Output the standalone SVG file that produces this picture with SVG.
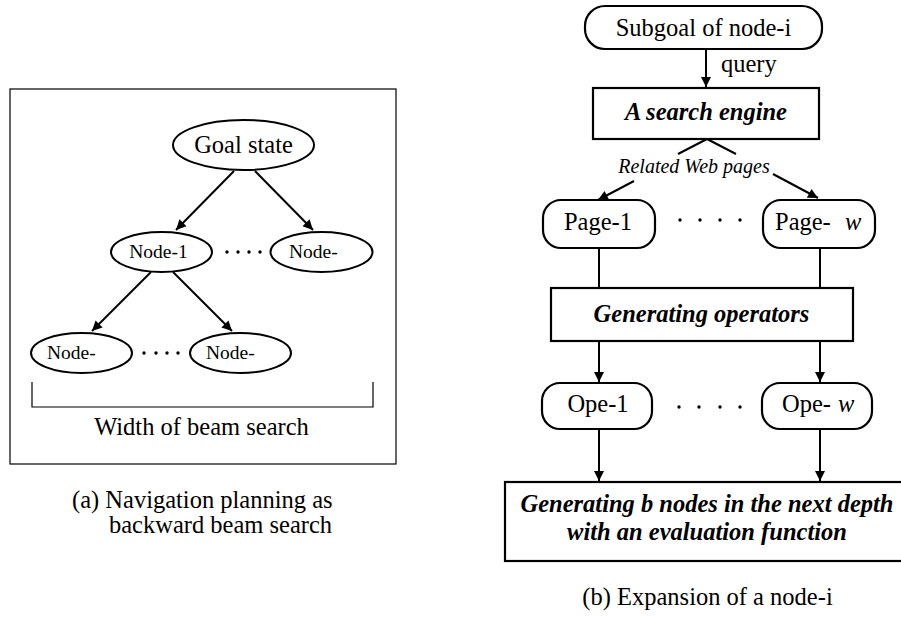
<svg xmlns="http://www.w3.org/2000/svg" width="901" height="617" viewBox="0 0 901 617">
<style>
text{font-family:"Liberation Serif","Times New Roman",serif;fill:#000}
.t25{font-size:24.5px}
.t19{font-size:19.5px}
.bi{font-size:24.5px;font-weight:bold;font-style:italic}
.it{font-style:italic}
.el{fill:#fff;stroke:#000;stroke-width:2}
.bx{fill:#fff;stroke:#000;stroke-width:2.2}
.ln{stroke:#000;stroke-width:2;fill:none}
.thin{stroke:#000;stroke-width:1.2;fill:none}
.dot{fill:#000}
</style>
<defs>
<marker id="ah" viewBox="0 0 10 10" refX="10" refY="5" markerWidth="6.5" markerHeight="5" orient="auto" markerUnits="strokeWidth">
<path d="M0,0 L10,5 L0,10 z" fill="#000"/>
</marker>
</defs>
<rect x="10" y="89" width="386" height="375" class="thin" fill="#fff"/>
<g id="connectors">
<line x1="234" y1="171" x2="176" y2="230" class="ln" marker-end="url(#ah)"/>
<line x1="255" y1="171" x2="313" y2="230" class="ln" marker-end="url(#ah)"/>
<line x1="151" y1="272" x2="92" y2="331" class="ln" marker-end="url(#ah)"/>
<line x1="173" y1="272" x2="232" y2="331" class="ln" marker-end="url(#ah)"/>
<line x1="706" y1="49" x2="706" y2="87" class="ln" marker-end="url(#ah)"/>
<polyline points="678,154 707,139 736,154" class="ln"/>
<line x1="634" y1="181" x2="598" y2="200" class="ln" marker-end="url(#ah)"/>
<line x1="773" y1="174" x2="818" y2="198" class="ln" marker-end="url(#ah)"/>
<line x1="599" y1="248" x2="599" y2="288" class="ln"/>
<line x1="820" y1="248" x2="820" y2="288" class="ln"/>
<line x1="599" y1="341" x2="599" y2="382" class="ln" marker-end="url(#ah)"/>
<line x1="820" y1="341" x2="820" y2="382" class="ln" marker-end="url(#ah)"/>
<line x1="599" y1="429" x2="599" y2="481" class="ln" marker-end="url(#ah)"/>
<line x1="820" y1="429" x2="820" y2="481" class="ln" marker-end="url(#ah)"/>
</g>
<g id="goal"><ellipse cx="243.5" cy="145" rx="70.5" ry="25" class="el"/><text x="243.5" y="153" class="t25" text-anchor="middle">Goal state</text></g>
<g id="node1"><ellipse cx="161.5" cy="252" rx="50.5" ry="20" class="el"/><text x="158.5" y="258" class="t19" text-anchor="middle">Node-1</text></g>
<g id="nodeR"><ellipse cx="321.5" cy="252" rx="51" ry="20" class="el"/><text x="289" y="258" class="t19">Node-</text></g>
<g id="nodeBL"><ellipse cx="81.5" cy="353" rx="50.5" ry="20" class="el"/><text x="47" y="359" class="t19">Node-</text></g>
<g id="nodeBR"><ellipse cx="240.5" cy="353" rx="50.5" ry="20" class="el"/><text x="206" y="359" class="t19">Node-</text></g>
<g id="dotsA">
<circle cx="227" cy="252" r="1.7" class="dot"/><circle cx="238" cy="252" r="1.7" class="dot"/><circle cx="249" cy="252" r="1.7" class="dot"/><circle cx="260" cy="252" r="1.7" class="dot"/>
<circle cx="144" cy="353" r="1.7" class="dot"/><circle cx="156" cy="353" r="1.7" class="dot"/><circle cx="167" cy="353" r="1.7" class="dot"/><circle cx="178" cy="353" r="1.7" class="dot"/>
</g>
<g id="bracket"><polyline points="32,382 32,407 373,407 373,382" class="thin"/><text x="201.5" y="435" class="t25" text-anchor="middle">Width of beam search</text></g>
<g id="captionA"><text x="72" y="508" class="t25">(a) Navigation planning as</text><text x="109" y="533" class="t25">backward beam search</text></g>

<g id="subgoal"><rect x="585" y="6" width="237" height="43" rx="20" class="bx"/><text x="703.5" y="36" class="t25" text-anchor="middle">Subgoal of node-i</text></g>
<text x="721" y="72" class="t25">query</text>
<g id="engine"><rect x="593" y="88" width="226" height="51" class="bx"/><text x="706" y="120" class="bi" text-anchor="middle">A search engine</text></g>
<text x="694" y="173" style="font-size:20px" class="it" text-anchor="middle">Related Web pages</text>
<g id="page1"><rect x="543" y="200" width="112" height="48" rx="18" class="bx"/><text x="598" y="230" class="t25" text-anchor="middle">Page-1</text></g>
<g id="pagew"><rect x="763" y="200" width="112" height="48" rx="18" class="bx"/><text x="775" y="230" class="t25">Page-</text><text x="845" y="230" class="t25 it">w</text></g>
<g id="dotsP"><circle cx="680" cy="220" r="1.7" class="dot"/><circle cx="700" cy="220" r="1.7" class="dot"/><circle cx="720" cy="220" r="1.7" class="dot"/><circle cx="740" cy="220" r="1.7" class="dot"/></g>
<g id="genops"><rect x="551" y="288" width="302" height="53" class="bx"/><text x="701.5" y="322" class="bi" text-anchor="middle">Generating operators</text></g>
<g id="ope1"><rect x="542" y="383" width="110" height="46" rx="18" class="bx"/><text x="598" y="412" class="t25" text-anchor="middle">Ope-1</text></g>
<g id="opew"><rect x="762" y="383" width="110" height="46" rx="18" class="bx"/><text x="782" y="412" class="t25">Ope-</text><text x="838" y="412" class="t25 it">w</text></g>
<g id="dotsO"><circle cx="679" cy="407" r="1.7" class="dot"/><circle cx="699" cy="407" r="1.7" class="dot"/><circle cx="720" cy="407" r="1.7" class="dot"/><circle cx="740" cy="407" r="1.7" class="dot"/></g>
<g id="gennodes"><rect x="505" y="482" width="404" height="79" class="bx"/><text x="707" y="512" class="bi" text-anchor="middle">Generating b nodes in the next depth</text><text x="707" y="540" class="bi" text-anchor="middle">with an evaluation function</text></g>
<g id="captionB"><text x="707.5" y="605" class="t25" text-anchor="middle">(b) Expansion of a node-i</text></g>
</svg>
